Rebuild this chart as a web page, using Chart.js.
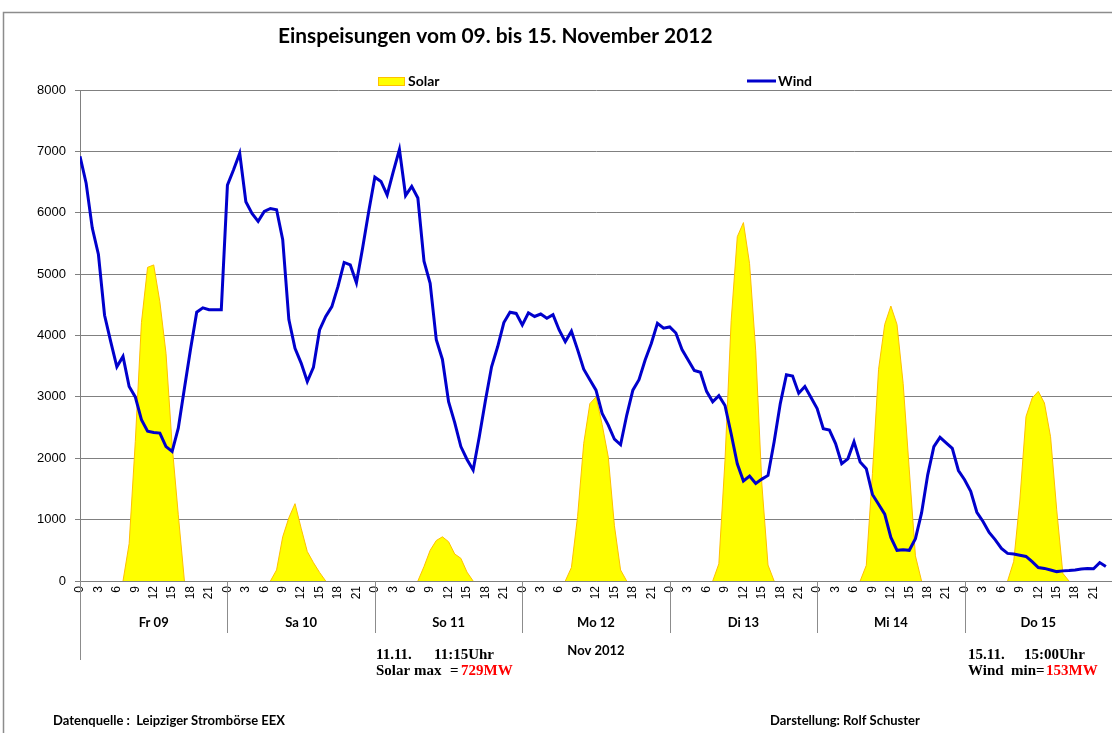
<!DOCTYPE html>
<html>
<head>
<meta charset="utf-8">
<title>Einspeisungen vom 09. bis 15. November 2012</title>
<script src="https://cdn.jsdelivr.net/npm/chart.js@4.4.1/dist/chart.umd.min.js"></script>
<style>
  html, body { margin: 0; padding: 0; background: #fff; overflow: hidden; }
</style>
</head>
<body>
<canvas id="myChart" width="1112" height="733"></canvas>
<script>
// Day labels under the hour ticks
const dayLabels = ['Fr 09', 'Sa 10', 'So 11', 'Mo 12', 'Di 13', 'Mi 14', 'Do 15'];
const hourTicks = [0, 3, 6, 9, 12, 15, 18, 21];

// Wind feed-in (MW), one value per hour, 09.11. 0:00 to 15.11. 23:00
const windMW = [
    6920, 6480, 5750, 5320, 4330, 3900, 3490, 3660, 3170, 3000, 2630, 2440,
    2420, 2410, 2190, 2110, 2490, 3140, 3780, 4380, 4450, 4420, 4420, 4420,
    6450, 6700, 6970, 6180, 5990, 5860, 6020, 6070, 6050, 5560, 4260, 3790,
    3550, 3250, 3480, 4090, 4310, 4470, 4800, 5190, 5150, 4860, 5420, 6020,
    6580, 6510, 6290, 6670, 7030, 6280, 6430, 6240, 5210, 4850, 3930, 3610,
    2920, 2580, 2190, 1980, 1810, 2350, 2940, 3490, 3820, 4210, 4380, 4360,
    4170, 4370, 4310, 4350, 4280, 4340, 4090, 3900, 4070, 3770, 3450, 3280,
    3110, 2730, 2540, 2310, 2220, 2700, 3110, 3280, 3600, 3870, 4200, 4120,
    4140, 4040, 3770, 3600, 3430, 3400, 3090, 2920, 3020, 2860, 2400, 1910,
    1630, 1710, 1590, 1660, 1720, 2270, 2890, 3360, 3340, 3060, 3170, 2990,
    2810, 2480, 2460, 2240, 1910, 1990, 2270, 1940, 1830, 1410, 1250, 1090,
    710, 500, 510, 500, 690, 1110, 1730, 2190, 2340, 2250, 2160, 1800,
    1650, 1460, 1120, 970, 790, 670, 530, 450, 440, 420, 400, 315,
    220, 205, 180, 153, 165, 170, 180, 195, 205, 200, 300, 235
];

// Solar feed-in (MW), one value per hour
const solarMW = [
    0, 0, 0, 0, 0, 0, 0, 0, 610, 2270, 4210, 5110,
    5150, 4550, 3710, 2210, 1080, 0, 0, 0, 0, 0, 0, 0,
    0, 0, 0, 0, 0, 0, 0, 0, 180, 720, 1030, 1260,
    860, 480, 300, 140, 0, 0, 0, 0, 0, 0, 0, 0,
    0, 0, 0, 0, 0, 0, 0, 0, 235, 500, 660, 720,
    640, 440, 370, 145, 0, 0, 0, 0, 0, 0, 0, 0,
    0, 0, 0, 0, 0, 0, 0, 0, 220, 1050, 2240, 2890,
    3000, 2550, 2020, 900, 180, 0, 0, 0, 0, 0, 0, 0,
    0, 0, 0, 0, 0, 0, 0, 0, 280, 1970, 4240, 5610,
    5840, 5170, 3750, 1580, 260, 0, 0, 0, 0, 0, 0, 0,
    0, 0, 0, 0, 0, 0, 0, 0, 255, 1750, 3450, 4180,
    4480, 4180, 3220, 1810, 410, 0, 0, 0, 0, 0, 0, 0,
    0, 0, 0, 0, 0, 0, 0, 0, 320, 1320, 2680, 2980,
    3090, 2900, 2350, 1160, 125, 0, 0, 0, 0, 0, 0, 0
];

const ctx = document.getElementById('myChart').getContext('2d');

const SANS = 'Lato, "Open Sans", sans-serif';
const SERIF = '"Liberation Serif", serif';

// texts, legend, day separators drawn around the chart
const decor = {
    id: 'decor',
    beforeDraw(chart) {
        const c = chart.ctx;
        c.save();
        c.fillStyle = '#fff';
        c.fillRect(0, 0, chart.width, chart.height);
        c.strokeStyle = '#8c8c8c';
        c.lineWidth = 1.5;
        c.beginPath();
        c.moveTo(3.5, chart.height);
        c.lineTo(3.5, 12.5);
        c.lineTo(chart.width, 12.5);
        c.stroke();
        c.restore();
    },
    afterDraw(chart) {
        const c = chart.ctx;
        const x = chart.scales.x;
        const area = chart.chartArea;
        c.save();

        // title, fitted to the original width
        c.fillStyle = '#000';
        c.textBaseline = 'middle';
        c.textAlign = 'left';
        const title = 'Einspeisungen vom 09. bis 15. November 2012';
        c.font = 'bold 20px ' + SANS;
        const tw = c.measureText(title).width;
        const ts = 20 * 434 / tw;
        c.font = 'bold ' + ts.toFixed(1) + 'px ' + SANS;
        c.fillText(title, 278, 36);

        // legend
        c.fillStyle = '#ffff00';
        c.fillRect(378, 77, 27, 9);
        c.strokeStyle = '#ffc000';
        c.lineWidth = 1;
        c.strokeRect(378.5, 77.5, 26, 8);
        c.strokeStyle = '#0000cc';
        c.lineWidth = 3;
        c.beginPath();
        c.moveTo(747, 81);
        c.lineTo(776, 81);
        c.stroke();
        c.fillStyle = '#000';
        c.font = 'bold 14px ' + SANS;
        c.fillText('Solar', 408, 81);
        c.fillText('Wind', 778, 81);

        // day separators and day labels
        c.strokeStyle = '#8c8c8c';
        c.lineWidth = 1;
        for (let d = 0; d <= dayLabels.length; d++) {
            const px = Math.round(x.getPixelForValue(d * 24)) + 0.5;
            c.beginPath();
            c.moveTo(px, area.bottom);
            c.lineTo(px, d === 0 ? 660 : 633);
            c.stroke();
        }
        c.font = 'bold 13px ' + SANS;
        c.textAlign = 'center';
        dayLabels.forEach((lbl, d) => {
            c.fillText(lbl, x.getPixelForValue(d * 24 + 12), 623);
        });
        c.fillText('Nov 2012', (area.left + area.right) / 2, 651);

        // annotations
        c.textAlign = 'left';
        c.font = 'bold 15px ' + SERIF;
        c.fillText('11.11.', 376, 655);
        c.fillText('11:15Uhr', 434, 655);
        c.fillText('Solar max', 376, 671);
        c.fillText('=', 450, 671);
        c.fillStyle = '#ff0000';
        c.fillText('729MW', 461, 671);
        c.fillStyle = '#000';
        c.fillText('15.11.', 968, 655);
        c.fillText('15:00Uhr', 1024, 655);
        c.fillText('Wind  min=', 968, 671);
        c.fillStyle = '#ff0000';
        c.fillText('153MW', 1046, 671);

        // footer
        c.fillStyle = '#000';
        c.font = 'bold 13px ' + SANS;
        c.fillText('Datenquelle :  Leipziger Strombörse EEX', 53, 721);
        c.fillText('Darstellung: Rolf Schuster', 770, 721);
        c.restore();
    }
};

new Chart(ctx, {
    type: 'line',
    data: {
        datasets: [{
            label: 'Wind',
            data: windMW.map((v, i) => ({ x: i, y: v })),
            borderColor: '#0000cc',
            borderWidth: 3,
            pointRadius: 0,
            fill: false,
            tension: 0,
            order: 0
        }, {
            label: 'Solar',
            data: solarMW.map((v, i) => ({ x: i, y: v })),
            borderColor: '#ffc000',
            backgroundColor: '#ffff00',
            borderWidth: 1,
            pointRadius: 0,
            fill: 'origin',
            tension: 0,
            order: 1,
            segment: {
                // no orange line along the baseline at night
                borderColor: s => (s.p0.parsed.y === 0 && s.p1.parsed.y === 0) ? 'rgba(0,0,0,0)' : '#ffc000'
            }
        }]
    },
    options: {
        responsive: false,
        animation: false,
        events: [],
        layout: { padding: { top: 90, left: 0, right: 0, bottom: 0 } },
        scales: {
            x: {
                type: 'linear',
                min: 0,
                max: 168,
                grid: { display: false, drawTicks: true, tickLength: 5 },
                border: { display: true, color: '#808080', width: 1 },
                ticks: {
                    stepSize: 3,
                    autoSkip: false,
                    minRotation: 90,
                    maxRotation: 90,
                    padding: 0,
                    color: '#000',
                    font: { family: '"Liberation Sans", sans-serif', size: 12 },
                    callback: v => (v >= 168 ? null : hourTicks[(v % 24) / 3])
                },
                afterFit: s => { s.height = 152; }
            },
            y: {
                min: 0,
                max: 8000,
                grid: { color: '#808080', lineWidth: 1, tickLength: 5 },
                border: { color: '#808080', width: 1 },
                ticks: {
                    stepSize: 1000,
                    padding: 9,
                    color: '#000',
                    font: { family: '"Liberation Sans", sans-serif', size: 13 },
                    callback: v => String(v)
                },
                afterFit: s => { s.width = 80; }
            }
        },
        plugins: {
            legend: { display: false },
            title: { display: false },
            tooltip: { enabled: false }
        }
    },
    plugins: [decor]
});
</script>
</body>
</html>
